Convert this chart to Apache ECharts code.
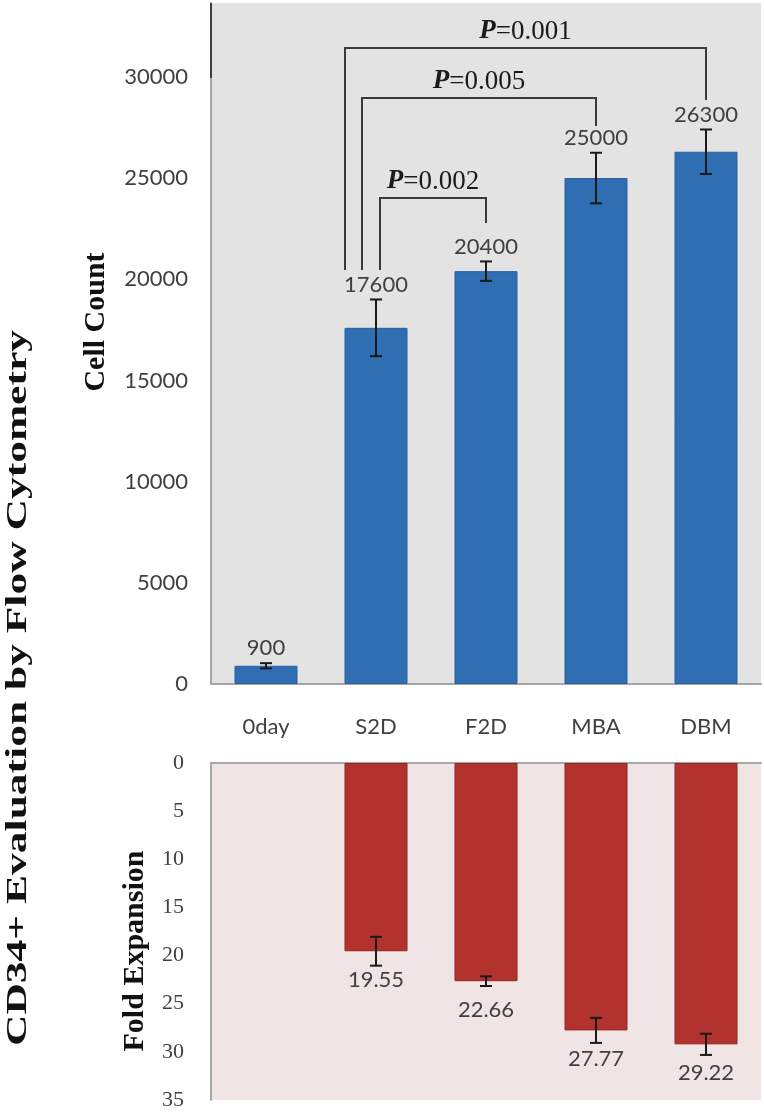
<!DOCTYPE html>
<html>
<head>
<meta charset="utf-8">
<script src="https://cdn.jsdelivr.net/npm/echarts@6/dist/echarts.min.js"></script>
<style>html,body{margin:0;padding:0;background:#fff;}#c{width:764px;height:1114px;}</style>
</head>
<body>
<div id="c"></div>
<script>
const categories = ['0day', 'S2D', 'F2D', 'MBA', 'DBM'];
const countMeans = [900, 17600, 20400, 25000, 26300];
const countErr = [130, 1400, 480, 1250, 1100];
const foldMeans = ['-', 19.55, 22.66, 27.77, 29.22];
const foldErr = [0, 1.5, 0.5, 1.3, 1.1];
const countTicks = { min: 0, max: 33650, interval: 5000 };
const foldTicks = { min: 0, max: 35, interval: 5 };
// comparisons: [from category, to category, bracket height, right drop end, left drop end]
const comparisons = [
  [1, 4, 31425, 28856, 20455],
  [1, 3, 28955, 27570, 20455],
  [1, 2, 24014, 22778, 20455]
];
const pValues = ['0.001', '0.005', '0.002'];

// styling
const leftOffsets = [-31, -14, 4];
const TXT = '#404040';
const SANS = 'Lato, "Open Sans", sans-serif';
const SERIF = '"Liberation Serif", "DejaVu Serif", serif';

const chart = echarts.init(document.getElementById('c'));

function errRender(labelAbove, labelGap) {
  return function (params, api) {
    const i = api.value(0), m = api.value(1), e = api.value(2);
    const children = [];
    const base = api.coord([i, m]);
    if (e > 0) {
      const top = api.coord([i, m + e]);
      const bot = api.coord([i, m - e]);
      const cw = 6;
      children.push({ type: 'line', shape: { x1: top[0], y1: top[1], x2: bot[0], y2: bot[1] }, style: { stroke: '#1a1a1a', lineWidth: 2 } });
      children.push({ type: 'line', shape: { x1: top[0] - cw, y1: top[1], x2: top[0] + cw, y2: top[1] }, style: { stroke: '#1a1a1a', lineWidth: 2 } });
      children.push({ type: 'line', shape: { x1: bot[0] - cw, y1: bot[1], x2: bot[0] + cw, y2: bot[1] }, style: { stroke: '#1a1a1a', lineWidth: 2 } });
    }
    const lab = labelAbove ? api.coord([i, m + e]) : base;
    children.push({
      type: 'text',
      x: lab[0], y: labelAbove ? lab[1] - labelGap : lab[1] + labelGap,
      style: {
        text: String(api.value(3)),
        font: '22px ' + SANS, fill: TXT,
        align: 'center', verticalAlign: labelAbove ? 'bottom' : 'top'
      }
    });
    return { type: 'group', children: children };
  };
}

chart.setOption({
  animation: false,
  backgroundColor: '#ffffff',
  grid: [
    { left: 211, top: 3, width: 550, height: 681, show: true, backgroundColor: '#E3E3E3', borderWidth: 0 },
    { left: 211, top: 763, width: 550, height: 337, show: true, backgroundColor: '#F1E4E4', borderWidth: 0 }
  ],
  xAxis: [
    { type: 'category', gridIndex: 0, data: categories,
      axisLine: { lineStyle: { color: '#A6A6A6', width: 2 } }, axisTick: { show: false },
      axisLabel: { color: TXT, fontFamily: SANS, fontSize: 22, margin: 32 } },
    { type: 'category', gridIndex: 1, data: categories, position: 'top',
      axisLine: { lineStyle: { color: '#A6A6A6', width: 2 } }, axisTick: { show: false },
      axisLabel: { show: false } }
  ],
  yAxis: [
    { type: 'value', gridIndex: 0, min: countTicks.min, max: countTicks.max, interval: countTicks.interval,
      axisLine: { show: true, lineStyle: { color: '#A6A6A6', width: 2 } }, axisTick: { show: false },
      splitLine: { show: false },
      axisLabel: { color: TXT, fontFamily: SANS, fontSize: 22, margin: 23, showMaxLabel: false,
        formatter: v => String(v) } },
    { type: 'value', gridIndex: 1, inverse: true, min: foldTicks.min, max: foldTicks.max, interval: foldTicks.interval,
      axisLine: { show: true, lineStyle: { color: '#A6A6A6', width: 2 } }, axisTick: { show: false },
      splitLine: { show: false },
      axisLabel: { color: TXT, fontFamily: SERIF, fontSize: 22, margin: 27, formatter: v => String(v) } }
  ],
  graphic: [
    { type: 'text', x: 18, y: 688, rotation: Math.PI / 2, scaleX: 1.45,
      style: { text: 'CD34+ Evaluation by Flow Cytometry', font: 'bold 30px ' + SERIF, fill: '#111', align: 'center', verticalAlign: 'middle' } },
    { type: 'text', x: 96, y: 322, rotation: Math.PI / 2,
      style: { text: 'Cell Count', font: 'bold 30px ' + SERIF, fill: '#111', align: 'center', verticalAlign: 'middle' } },
    { type: 'text', x: 135, y: 951, rotation: Math.PI / 2,
      style: { text: 'Fold Expansion', font: 'bold 30px ' + SERIF, fill: '#111', align: 'center', verticalAlign: 'middle' } },
    { type: 'line', shape: { x1: 211, y1: 3, x2: 211, y2: 78 }, style: { stroke: '#404040', lineWidth: 2 }, z: 10 }
  ],
  series: [
    { type: 'bar', xAxisIndex: 0, yAxisIndex: 0, data: countMeans, barWidth: 63,
      itemStyle: { color: '#2F6EB3', borderColor: '#28609E', borderWidth: 1 } },
    { type: 'bar', xAxisIndex: 1, yAxisIndex: 1, data: foldMeans, barWidth: 63,
      itemStyle: { color: '#B2322E', borderColor: '#8E2622', borderWidth: 1 } },
    { type: 'custom', xAxisIndex: 0, yAxisIndex: 0, clip: false,
      data: countMeans.map((v, i) => [i, v, countErr[i], v]),
      renderItem: errRender(true, 4), z: 5 },
    { type: 'custom', xAxisIndex: 1, yAxisIndex: 1, clip: false,
      data: foldMeans.map((v, i) => v === '-' ? null : [i, v, foldErr[i], v.toFixed(2)]).filter(d => d),
      renderItem: errRender(false, 18), z: 5 },
    { type: 'custom', xAxisIndex: 0, yAxisIndex: 0, clip: false,
      data: comparisons.map((c, k) => [c[0], c[1], c[2], c[3], c[4], k]),
      renderItem: function (params, api) {
        const k = api.value(5);
        const x1 = api.coord([api.value(0), api.value(2)])[0] + leftOffsets[k];
        const x2 = api.coord([api.value(1), api.value(2)])[0];
        const yT = api.coord([api.value(0), api.value(2)])[1];
        const yR = api.coord([api.value(1), api.value(3)])[1];
        const yL = api.coord([api.value(0), api.value(4)])[1];
        return { type: 'group', children: [
          { type: 'polyline', shape: { points: [[x1, yL], [x1, yT], [x2, yT], [x2, yR]] },
            style: { stroke: '#3a3a3a', lineWidth: 2, fill: null } },
          { type: 'text', x: (x1 + x2) / 2, y: yT - 3,
            style: { text: '{p|P}{v|=' + pValues[k] + '}', align: 'center', verticalAlign: 'bottom',
              rich: { p: { font: 'italic bold 27px ' + SERIF, fill: '#1a1a1a' },
                      v: { font: '27px ' + SERIF, fill: '#1a1a1a' } } } }
        ] };
      }, z: 6 }
  ]
});
</script>
</body>
</html>
